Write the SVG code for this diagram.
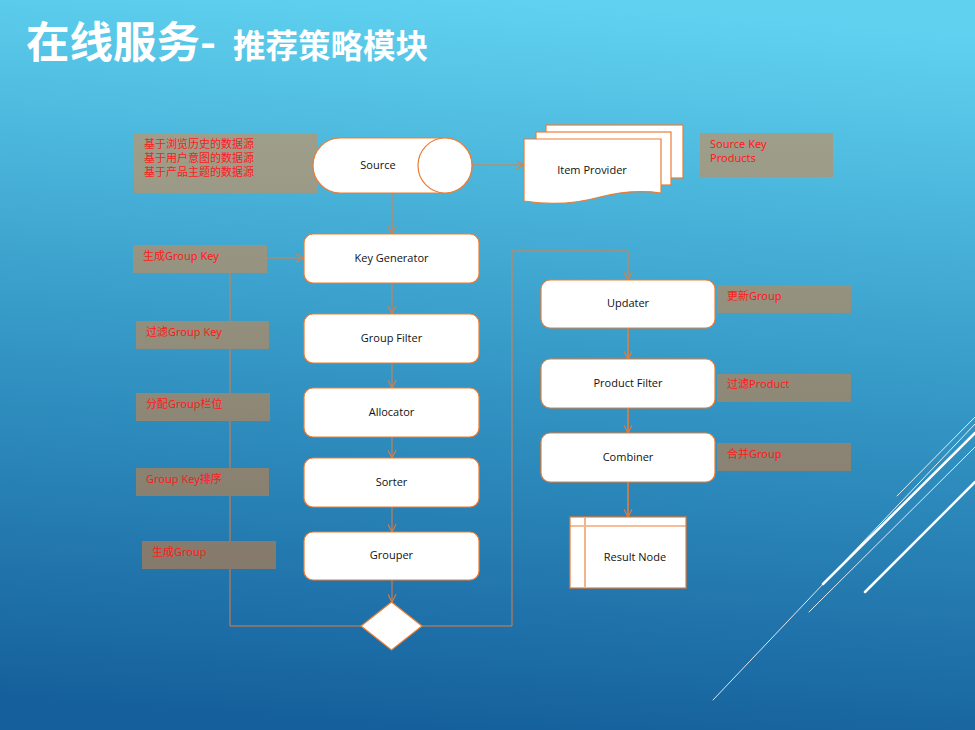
<svg xmlns="http://www.w3.org/2000/svg" width="975" height="730" viewBox="0 0 975 730">
<defs>
<linearGradient id="bg" x1="0.55" y1="0" x2="0.45" y2="1">
<stop offset="0" stop-color="#60d2f0"/>
<stop offset="0.5" stop-color="#3598c6"/>
<stop offset="1" stop-color="#15609c"/>
</linearGradient>
<linearGradient id="lbl" gradientUnits="userSpaceOnUse" x1="0" y1="130" x2="0" y2="575">
<stop offset="0" stop-color="#9e9f8b"/>
<stop offset="1" stop-color="#84796a"/>
</linearGradient>
<marker id="arr" viewBox="0 0 10 10" refX="9.5" refY="5" markerWidth="9" markerHeight="9" markerUnits="userSpaceOnUse" orient="auto">
<path d="M1,0.5 L9.5,5 L1,9.5" fill="none" stroke="#e67c3a" stroke-width="1.2"/>
</marker>
<style>
.node{fill:#fff;stroke:#ec7c32;stroke-width:1.2}
.ntxt{font-family:"Open Sans","Noto Sans",sans-serif;font-size:11px;fill:#111;text-anchor:middle}
.lbox{fill:url(#lbl)}
.ltxt{font-family:"Noto Sans","Noto Sans CJK SC",sans-serif;font-size:11px;fill:#ff1a1a}
.conn{fill:none;stroke:#e27d40;stroke-width:1}
.conn2{fill:none;stroke:#ea7b35;stroke-width:1.6}
.deco{stroke:#fff;stroke-linecap:round}
</style>
</defs>
<rect x="0" y="0" width="975" height="730" fill="url(#bg)"/>
<g id="decor">
<line class="deco" x1="897" y1="496" x2="975" y2="417" stroke-width="1" opacity="0.85"/>
<line class="deco" x1="713" y1="700" x2="975" y2="424" stroke-width="1" opacity="0.85"/>
<line class="deco" x1="823" y1="584" x2="975" y2="433" stroke-width="2.5"/>
<line class="deco" x1="809" y1="612" x2="975" y2="447" stroke-width="1" opacity="0.85"/>
<line class="deco" x1="865" y1="592" x2="975" y2="482" stroke-width="2.5"/>
</g>
<g id="title" font-family="'Noto Sans CJK SC',sans-serif" font-weight="bold" fill="#fff">
<text x="26" y="58" font-size="43.5">在线服务-</text>
<text x="233" y="58" font-size="32.5">推荐策略模块</text>
</g>
<g id="connectors">
<line class="conn" x1="472" y1="165" x2="524" y2="165" marker-end="url(#arr)"/>
<line class="conn" x1="392" y1="193" x2="392" y2="234" marker-end="url(#arr)"/>
<line class="conn" x1="392" y1="283" x2="392" y2="314" marker-end="url(#arr)"/>
<line class="conn" x1="392" y1="363" x2="392" y2="388" marker-end="url(#arr)"/>
<line class="conn" x1="392" y1="437" x2="392" y2="458" marker-end="url(#arr)"/>
<line class="conn" x1="392" y1="507" x2="392" y2="532" marker-end="url(#arr)"/>
<line class="conn" x1="392" y1="580" x2="392" y2="602" marker-end="url(#arr)"/>
<polyline class="conn" points="361,626 230,626 230,258 304,258" marker-end="url(#arr)"/>
<polyline class="conn" points="422,626 512,626 512,251 628,251 628,280" marker-end="url(#arr)"/>
<line class="conn2" x1="628" y1="328" x2="628" y2="359" marker-end="url(#arr)"/>
<line class="conn2" x1="628" y1="408" x2="628" y2="433" marker-end="url(#arr)"/>
<line class="conn2" x1="628" y1="482" x2="628" y2="517" marker-end="url(#arr)"/>
</g>
<g id="label-sources">
<rect class="lbox" x="134" y="134" width="183" height="59"/>
<text class="ltxt" x="144" y="148">基于浏览历史的数据源</text>
<text class="ltxt" x="144" y="162">基于用户意图的数据源</text>
<text class="ltxt" x="144" y="176">基于产品主题的数据源</text>
</g>
<g id="source">
<path class="node" d="M340,138 H445 A27,27.5 0 0 1 445,193 H340 A27,27.5 0 0 1 340,138 Z"/>
<ellipse class="node" cx="445" cy="165.5" rx="27" ry="27.5"/>
<text class="ntxt" x="378" y="169">Source</text>
</g>
<g id="item-provider">
<rect class="node" x="546" y="125" width="137" height="53"/>
<rect class="node" x="536" y="132" width="135" height="53"/>
<path class="node" d="M524,139 H661 V193 C640,190 620,192 600,197 C575,204 550,205 524,201 Z"/>
<text class="ntxt" x="592" y="174">Item Provider</text>
</g>
<g id="label-source-key">
<rect class="lbox" x="700" y="133" width="133" height="44"/>
<text class="ltxt" x="710" y="148">Source Key</text>
<text class="ltxt" x="710" y="162">Products</text>
</g>
<g id="key-generator">
<rect class="node" x="304" y="234" width="175" height="49" rx="9"/>
<text class="ntxt" x="391.5" y="262">Key Generator</text>
</g>
<g id="group-filter">
<rect class="node" x="304" y="314" width="175" height="49" rx="9"/>
<text class="ntxt" x="391.5" y="342">Group Filter</text>
</g>
<g id="allocator">
<rect class="node" x="304" y="388" width="175" height="49" rx="9"/>
<text class="ntxt" x="391.5" y="416">Allocator</text>
</g>
<g id="sorter">
<rect class="node" x="304" y="458" width="175" height="49" rx="9"/>
<text class="ntxt" x="391.5" y="486">Sorter</text>
</g>
<g id="grouper">
<rect class="node" x="304" y="532" width="175" height="48" rx="9"/>
<text class="ntxt" x="391.5" y="559">Grouper</text>
</g>
<g id="decision">
<polygon class="node" points="391.5,602 422,626 391.5,650 361,626"/>
</g>
<g id="label-gen-key">
<rect class="lbox" x="133" y="245" width="134" height="28"/>
<text class="ltxt" x="143" y="260">生成Group Key</text>
</g>
<g id="label-filter-key">
<rect class="lbox" x="136" y="321" width="133" height="28"/>
<text class="ltxt" x="146" y="336">过滤Group Key</text>
</g>
<g id="label-alloc">
<rect class="lbox" x="136" y="393" width="134" height="28"/>
<text class="ltxt" x="146" y="408">分配Group栏位</text>
</g>
<g id="label-sort">
<rect class="lbox" x="136" y="468" width="133" height="28"/>
<text class="ltxt" x="146" y="483">Group Key排序</text>
</g>
<g id="label-gen-group">
<rect class="lbox" x="142" y="541" width="134" height="28"/>
<text class="ltxt" x="152" y="556">生成Group</text>
</g>
<g id="updater">
<rect class="node" x="541" y="280" width="174" height="48" rx="9"/>
<text class="ntxt" x="628" y="307">Updater</text>
</g>
<g id="product-filter">
<rect class="node" x="541" y="359" width="174" height="49" rx="9"/>
<text class="ntxt" x="628" y="387">Product Filter</text>
</g>
<g id="combiner">
<rect class="node" x="541" y="433" width="174" height="49" rx="9"/>
<text class="ntxt" x="628" y="461">Combiner</text>
</g>
<g id="result-node">
<rect class="node" x="570" y="517" width="116" height="71"/>
<line x1="570" y1="526" x2="686" y2="526" stroke="#ec7c32" stroke-width="1.2"/>
<line x1="585" y1="517.6" x2="585" y2="587.4" stroke="#f3b48a" stroke-width="2"/>
<text class="ntxt" x="635" y="561">Result Node</text>
</g>
<g id="label-update">
<rect class="lbox" x="717" y="285" width="134" height="28"/>
<text class="ltxt" x="727" y="300">更新Group</text>
</g>
<g id="label-product">
<rect class="lbox" x="717" y="374" width="134" height="28"/>
<text class="ltxt" x="727" y="388">过滤Product</text>
</g>
<g id="label-combine">
<rect class="lbox" x="717" y="443" width="134" height="28"/>
<text class="ltxt" x="727" y="458">合并Group</text>
</g>
</svg>
